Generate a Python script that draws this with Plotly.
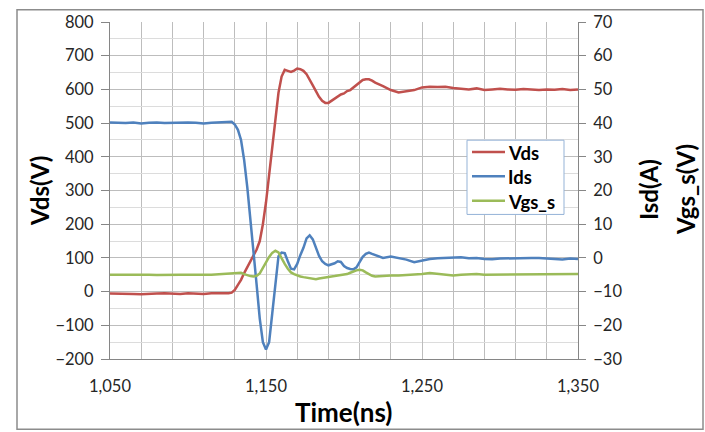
import plotly.graph_objects as go

# Time base (ns)
time_ns = [1050, 1055, 1060, 1065, 1070, 1075, 1080, 1085, 1090, 1095, 1100, 1105, 1110, 1115, 1120, 1125,
           1126, 1128, 1130, 1132, 1134, 1136, 1138, 1140, 1142, 1144, 1146, 1148, 1150, 1152, 1154, 1156,
           1158, 1160, 1162, 1164, 1166, 1168, 1170, 1172, 1174, 1176, 1178, 1180, 1182, 1184, 1186, 1188,
           1190, 1192, 1194, 1196, 1198, 1200, 1202, 1204, 1206, 1208, 1210, 1212, 1214, 1216, 1218, 1220,
           1225, 1230, 1235, 1240, 1245, 1250, 1255, 1260, 1265, 1270, 1275, 1280, 1285, 1290, 1295, 1300,
           1305, 1310, 1315, 1320, 1325, 1330, 1335, 1340, 1345, 1350]

# Drain-source voltage (V), left axis
vds = [-6, -6, -5, -7, -8, -6, -6, -5, -6, -7, -5, -6, -7, -5, -6, -5,
       -5, -3, 5, 20, 35, 55, 72, 90, 108, 125, 150, 200, 265, 350, 435, 520,
       590, 638, 658, 655, 652, 656, 662, 660, 655, 645, 630, 612, 595, 578, 566, 560,
       560, 566, 573, 578, 585, 588, 595, 598, 606, 612, 620, 628, 630, 630, 626, 620,
       610, 598, 591, 594, 598, 606, 608, 607, 608, 604, 602, 600, 603, 598, 600, 602,
       600, 599, 601, 600, 598, 600, 599, 601, 598, 600]

# Source-drain current (A), right axis
ids = [40.2, 40.1, 40.0, 40.2, 39.9, 40.1, 40.2, 40.0, 40.1, 40.0, 40.2, 40.1, 39.9, 40.1, 40.2, 40.3,
       40.5, 40.4, 39.6, 38.0, 35.0, 29.0, 21.0, 12.0, 2.5, -8.0, -18.0, -25.0, -27.2, -25.0, -16.5, -7.0,
       0.5, 1.6, 1.4, -1.0, -3.2, -3.4, -1.8, 0.8, 3.0, 5.8, 6.7, 5.5, 3.0, 0.6, -1.0, -1.8,
       -2.2, -2.0, -1.6, -1.0, -1.2, -2.4, -3.0, -3.3, -3.4, -2.8, -1.2, 0.3, 1.2, 1.6, 1.2, 0.8,
       0.0, 0.4, 0.0, -0.5, -1.3, -0.8, -0.3, -0.1, 0.0, 0.1, 0.2, -0.1, 0.0, -0.3, -0.4, -0.2,
       -0.1, 0.0, 0.1, 0.0, 0.0, -0.1, -0.4, -0.5, -0.2, -0.3]

# Gate-source voltage (V), right axis
vgs_s = [-5.0, -5.1, -5.0, -5.0, -4.9, -5.0, -5.1, -5.0, -4.9, -5.0, -5.0, -4.9, -5.0, -5.0, -4.8, -4.6,
         -4.6, -4.5, -4.4, -4.3, -4.4, -4.8, -5.2, -5.4, -5.5, -5.3, -4.6, -3.0, -1.2, 0.3, 1.5, 2.1,
         1.6, -0.2, -1.8, -3.2, -4.3, -4.8, -5.2, -5.5, -5.7, -5.9, -6.1, -6.3, -6.3, -6.1, -5.9, -5.7,
         -5.6, -5.5, -5.4, -5.3, -5.1, -5.0, -4.8, -4.4, -4.0, -3.7, -3.5, -3.7, -4.3, -4.9, -5.3, -5.5,
         -5.3, -5.2, -5.2, -5.1, -5.0, -4.8, -4.5, -4.7, -5.0, -5.2, -5.0, -4.9, -4.8, -5.0, -5.0, -5.0,
         -4.9, -4.8, -5.0, -4.9, -5.0, -4.8, -5.0, -4.9, -4.8, -4.8]

series_names = ["Vds", "Ids", "Vgs_s"]
series_colors = ["#C0504D", "#4F81BD", "#9BBB59"]

W, H = 705, 432
ML, MR, MT, MB = 110, 127, 14, 73
PW, PH = W - ML - MR, H - MT - MB


def px(x):
    return (x - ML) / PW


def py(y):
    return (H - MB - y) / PH


FONT = "Lato, Arial, sans-serif"
TICK_FONT = dict(family=FONT, size=16.5, color="#262626")
TITLE_FONT = dict(family=FONT, size=24, color="#000000")
GRID = "#bdbdbd"
GRID_MINOR = "#dcdcdc"
AXIS = "#868686"

fig = go.Figure()
for name, color, ys, axis in zip(series_names, series_colors, [vds, ids, vgs_s], ["y", "y2", "y2"]):
    fig.add_trace(go.Scatter(x=time_ns, y=ys, name=name, mode="lines", yaxis=axis,
                             line=dict(color=color, width=2.5), showlegend=False))

fig.update_layout(
    width=W, height=H,
    margin=dict(l=ML, r=MR, t=MT, b=MB),
    paper_bgcolor="white", plot_bgcolor="white",
    xaxis=dict(range=[1050, 1350], tick0=1050, dtick=100, tickformat=",d",
               showgrid=True, gridcolor=GRID, gridwidth=1,
               minor=dict(tick0=1050, dtick=20, showgrid=True, gridcolor=GRID, gridwidth=1),
               showline=True, linecolor=AXIS, linewidth=1, zeroline=False,
               ticks="", ticklabelstandoff=12, tickfont=TICK_FONT),
    yaxis=dict(range=[-200, 800], dtick=100, showgrid=True, gridcolor=GRID, gridwidth=1,
               minor=dict(dtick=50, showgrid=True, gridcolor=GRID_MINOR, gridwidth=1),
               showline=True, linecolor=AXIS, linewidth=1, zeroline=False,
               ticks="outside", ticklen=8, tickcolor=AXIS, ticklabelstandoff=4,
               tickfont=TICK_FONT),
    yaxis2=dict(range=[-30, 70], dtick=10, overlaying="y", side="right",
                showgrid=False, zeroline=False, showline=True, linecolor=AXIS, linewidth=1,
                ticks="outside", ticklen=7, tickcolor=AXIS, ticklabelstandoff=4,
                tickfont=TICK_FONT),
    showlegend=False,
)

# Legend box with a line sample and bold label per series
fig.add_shape(type="rect", xref="paper", yref="paper",
              x0=px(467), x1=px(564), y0=py(211), y1=py(135),
              line=dict(color="#95B3D7", width=1), fillcolor="white", layer="above")
for i, (name, color) in enumerate(zip(series_names, series_colors)):
    row_y = 147 + 25 * i
    fig.add_shape(type="line", xref="paper", yref="paper",
                  x0=px(472), x1=px(505), y0=py(row_y), y1=py(row_y),
                  line=dict(color=color, width=2.5), layer="above")
    fig.add_annotation(text=f"<b>{name}</b>", x=px(506), y=py(row_y + 1), xref="paper", yref="paper",
                       xanchor="left", yanchor="middle", showarrow=False,
                       font=dict(family=FONT, size=18.5, color="#000000"))

for txt, x, y in [("Vds(V)", 40, 187), ("Isd(A)", 648, 186), ("Vgs_s(V)", 685, 186)]:
    fig.add_annotation(text=f"<b>{txt}</b>", x=px(x), y=py(y), xref="paper", yref="paper",
                       xanchor="center", yanchor="middle",
                       textangle=-90, showarrow=False, font=TITLE_FONT)
fig.add_annotation(text="<b>Time(ns)</b>", x=px(343), y=py(413), xref="paper", yref="paper",
                   xanchor="center", yanchor="middle",
                   showarrow=False, font=dict(TITLE_FONT, size=26))

# chart-area border
fig.add_shape(type="rect", xref="paper", yref="paper",
              x0=px(17), x1=px(703), y0=py(431), y1=py(1.5),
              line=dict(color="#8c8c8c", width=1.5), fillcolor="rgba(0,0,0,0)")

fig.write_html("out.html")
